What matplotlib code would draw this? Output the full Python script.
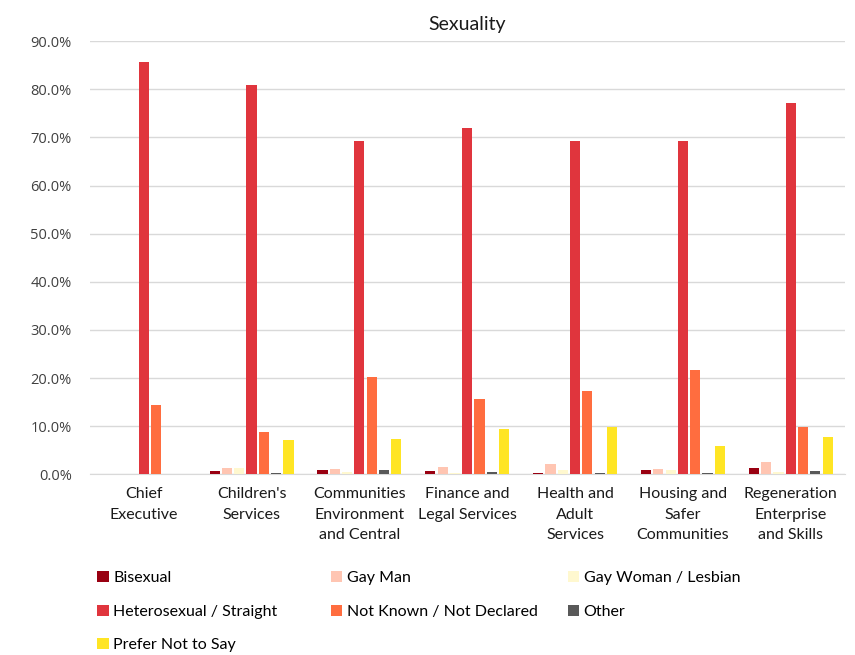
import matplotlib.pyplot as plt
import numpy as np
from matplotlib.ticker import PercentFormatter

# Directorates and share of staff (%) in each sexuality category
directorates = ["Chief\nExecutive", "Children's\nServices", "Communities\nEnvironment\nand Central",
                "Finance and\nLegal Services", "Health and\nAdult\nServices", "Housing and\nSafer\nCommunities",
                "Regeneration\nEnterprise\nand Skills"]

bisexual = [0.0, 0.7, 0.9, 0.7, 0.2, 0.8, 1.3]
gay_man = [0.0, 1.3, 1.1, 1.5, 2.1, 1.0, 2.6]
gay_woman = [0.0, 1.2, 0.4, 0.3, 0.8, 0.8, 0.5]
heterosexual = [85.7, 81.0, 69.3, 72.0, 69.3, 69.3, 77.1]
not_known = [14.3, 8.8, 20.2, 15.7, 17.4, 21.7, 9.9]
other = [0.0, 0.3, 0.9, 0.4, 0.2, 0.2, 0.6]
prefer_not = [0.0, 7.2, 7.4, 9.4, 9.9, 5.8, 7.8]

series = [
    ("Bisexual", bisexual, "#990011"),
    ("Gay Man", gay_man, "#FFC5B2"),
    ("Gay Woman / Lesbian", gay_woman, "#FFF8CF"),
    ("Heterosexual / Straight", heterosexual, "#E0353D"),
    ("Not Known / Not Declared", not_known, "#FF6D3F"),
    ("Other", other, "#595959"),
    ("Prefer Not to Say", prefer_not, "#FFE524"),
]

label_font = "Lato"

fig = plt.figure(figsize=(8.55, 6.55), dpi=100)
ax = fig.add_axes([0.105, 0.276, 0.883, 0.661])

x = np.arange(len(directorates))
slot = 0.114
width = 0.094
handles = []
for i, (name, vals, colour) in enumerate(series):
    offs = (i - (len(series) - 1) / 2) * slot
    handles.append(ax.bar(x + offs, vals, width, color=colour, label=name, zorder=3))

ax.set_ylim(0, 90)
ax.set_xlim(-0.5, len(directorates) - 0.5)
ax.set_yticks(np.arange(0, 91, 10))
ax.yaxis.set_major_formatter(PercentFormatter(decimals=1))
ax.grid(axis="y", color="#D9D9D9", linewidth=1, zorder=0)
for side in ("top", "right", "left"):
    ax.spines[side].set_visible(False)
ax.spines["bottom"].set_color("#D9D9D9")
ax.tick_params(axis="y", length=0, pad=13, labelsize=10.5, labelcolor="#404040")
ax.tick_params(axis="x", length=0, pad=9)
ax.set_xticks(x)
ax.set_xticklabels(directorates, fontfamily=label_font, fontsize=11.5,
                   color="#1a1a1a", linespacing=1.62, va="top")
for lab in ax.get_yticklabels():
    lab.set_fontfamily("Open Sans")

ax.set_title("Sexuality", fontfamily=label_font, fontsize=14, color="#1a1a1a", pad=8)

# legend laid out row by row in three equal columns
col_x = [0.114, 0.387, 0.664]
for c in range(3):
    idx = list(range(c, len(series), 3))
    leg = fig.legend([handles[i] for i in idx], [series[i][0] for i in idx],
                     loc="upper left", bbox_to_anchor=(col_x[c], 0.128),
                     bbox_transform=fig.transFigure, frameon=False,
                     handlelength=0.7, handleheight=0.7, handletextpad=0.3,
                     labelspacing=1.2, borderaxespad=0, borderpad=0,
                     prop={"family": label_font, "size": 11.5})

fig.savefig("out.png", dpi=100)
